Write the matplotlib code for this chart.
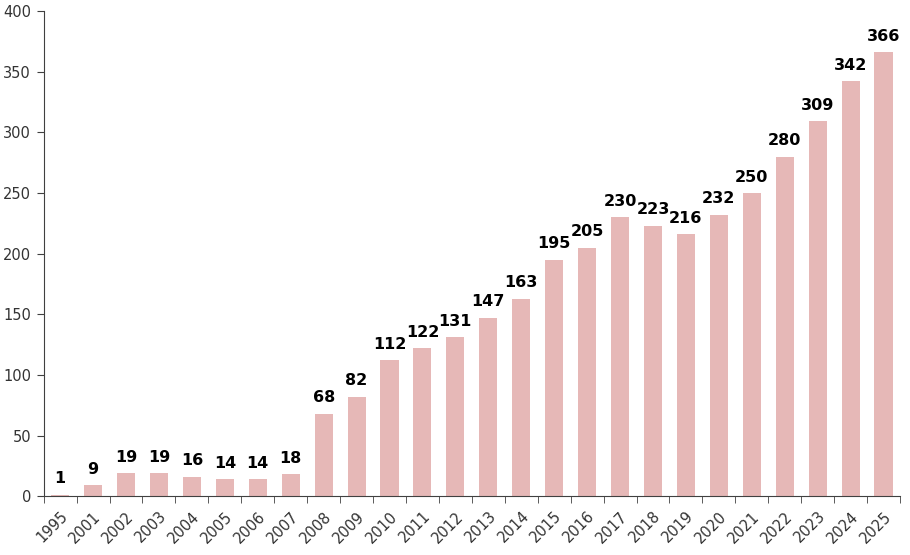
import numpy as np
import matplotlib.pyplot as plt

years = ['1995', '2001', '2002', '2003', '2004', '2005', '2006', '2007', '2008', '2009',
         '2010', '2011', '2012', '2013', '2014', '2015', '2016', '2017', '2018', '2019',
         '2020', '2021', '2022', '2023', '2024', '2025']
counts = [1, 9, 19, 19, 16, 14, 14, 18, 68, 82,
          112, 122, 131, 147, 163, 195, 205, 230, 223, 216,
          232, 250, 280, 309, 342, 366]

fig = plt.figure(figsize=(9.1, 5.55), dpi=100)
ax = fig.add_axes([0.048, 0.106, 0.941, 0.874])

x = np.arange(len(years))
bars = ax.bar(x, counts, width=0.55, color='#E6B8B7', zorder=2)

# value labels above each bar
for xi, v in zip(x, counts):
    ax.text(xi, v + 7, str(v), ha='center', va='bottom',
            fontsize=11.5, fontweight='bold', color='black')

ax.set_xlim(-0.5, len(years) - 0.5)
ax.set_ylim(0, 400)
ax.set_yticks(range(0, 401, 50))

# category labels centred, tick marks on category boundaries
ax.set_xticks(x)
ax.set_xticklabels(years, rotation=45, ha='right', rotation_mode='anchor')
ax.set_xticks(np.arange(-0.5, len(years)), minor=True)
ax.tick_params(axis='x', which='major', length=0, pad=9)
ax.tick_params(axis='x', which='minor', length=5, color='#404040', direction='out')
ax.tick_params(axis='y', length=5, color='#404040', direction='out', pad=4)
ax.tick_params(labelsize=10.5, labelcolor='#333333')

for side in ['top', 'right']:
    ax.spines[side].set_visible(False)
for side in ['left', 'bottom']:
    ax.spines[side].set_color('#404040')

fig.savefig('out.png', dpi=100)
